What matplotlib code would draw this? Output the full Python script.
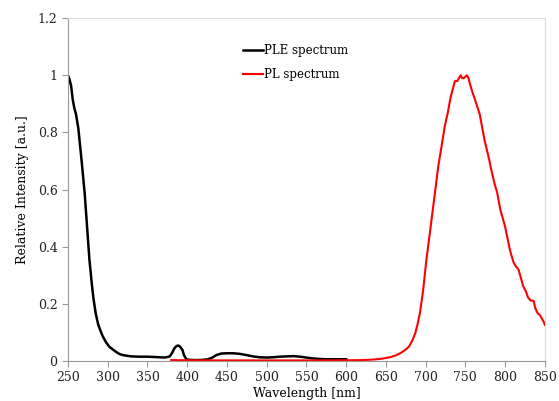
import matplotlib
matplotlib.use('Agg')
import matplotlib.pyplot as plt

# PLE spectrum (black)
ple_nm = [250, 252, 254, 256, 258, 260, 263, 267, 271, 274, 277, 280, 282, 285, 288, 291, 294, 298, 302, 307,
          311, 315, 320, 325, 330, 340, 350, 358, 365, 372, 378, 381, 384, 387, 389, 391, 394, 396, 399, 403,
          412, 420, 426, 431, 437, 443, 450, 458, 466, 474, 483, 491, 500, 508, 516, 525, 534, 542, 550, 558,
          567, 575, 585, 600]
ple_val = [1.0, 0.985, 0.962, 0.915, 0.885, 0.865, 0.815, 0.705, 0.588, 0.471, 0.354, 0.27, 0.22, 0.165, 0.128, 0.105, 0.085, 0.065, 0.05, 0.039,
           0.031, 0.024, 0.02, 0.018, 0.016, 0.015, 0.015, 0.014, 0.013, 0.012, 0.016, 0.028, 0.045, 0.053, 0.054, 0.05, 0.039, 0.02, 0.006, 0.004,
           0.003, 0.004, 0.006, 0.011, 0.021, 0.026, 0.027, 0.027, 0.025, 0.021, 0.016, 0.013, 0.012, 0.013, 0.015, 0.016, 0.017, 0.015, 0.012, 0.009,
           0.007, 0.006, 0.006, 0.006]

# PL spectrum (red)
pl_nm = [380, 420, 500, 580, 620, 634, 645, 655, 662, 668, 674, 679, 683, 687, 690, 693, 697, 701, 705, 710,
         716, 720, 724, 728, 731, 734, 737, 740, 742, 744, 746, 748, 750, 752, 754, 756, 759, 762, 765, 768,
         771, 774, 777, 780, 783, 787, 790, 794, 797, 800, 803, 806, 809, 811, 814, 817, 820, 823, 826, 829,
         832, 836, 838, 841, 844, 846, 849, 850]
pl_val = [0.003, 0.002, 0.002, 0.002, 0.003, 0.005, 0.008, 0.013, 0.019, 0.027, 0.038, 0.05, 0.07, 0.097, 0.13, 0.17, 0.25, 0.354, 0.44, 0.55,
          0.682, 0.75, 0.82, 0.87, 0.916, 0.95, 0.98, 0.98, 0.99, 1.0, 0.99, 0.99, 0.995, 1.0, 0.99, 0.968, 0.94, 0.916, 0.89, 0.865,
          0.82, 0.775, 0.74, 0.705, 0.665, 0.618, 0.59, 0.53, 0.5, 0.471, 0.43, 0.39, 0.36, 0.343, 0.33, 0.319, 0.29, 0.26, 0.245, 0.222,
          0.212, 0.21, 0.185, 0.167, 0.16, 0.15, 0.135, 0.126]

plt.rcParams['font.family'] = ['DejaVu Serif']

fig = plt.figure(figsize=(5.59, 4.01), dpi=100)
ax = fig.add_axes([0.1216, 0.0998, 0.853, 0.855])

ax.plot(ple_nm, ple_val, color='black', lw=1.8, label='PLE spectrum')
ax.plot(pl_nm, pl_val, color='#ff0000', lw=1.5, label='PL spectrum')

ax.set_xlim(250, 850)
ax.set_ylim(0, 1.2)
ax.set_xticks(range(250, 851, 50))
ax.set_yticks([0, 0.2, 0.4, 0.6, 0.8, 1.0, 1.2])
ax.set_yticklabels(['0', '0.2', '0.4', '0.6', '0.8', '1', '1.2'])
ax.tick_params(labelsize=9, color='#999999', length=4, width=0.8, labelcolor='#222222')

for s in ['left', 'bottom']:
    ax.spines[s].set_color('#999999')
for s in ['top', 'right']:
    ax.spines[s].set_color('#dddddd')

ax.set_xlabel('Wavelength [nm]', fontsize=9, labelpad=2)
ax.set_ylabel('Relative Intensity [a.u.]', fontsize=9, labelpad=6)

ax.legend(loc='upper left', bbox_to_anchor=(0.367, 0.924), frameon=False, fontsize=8.5,
          borderpad=0, borderaxespad=0, handlelength=1.7, handletextpad=0.1, labelspacing=0.93)

fig.savefig('out.png', dpi=100)
